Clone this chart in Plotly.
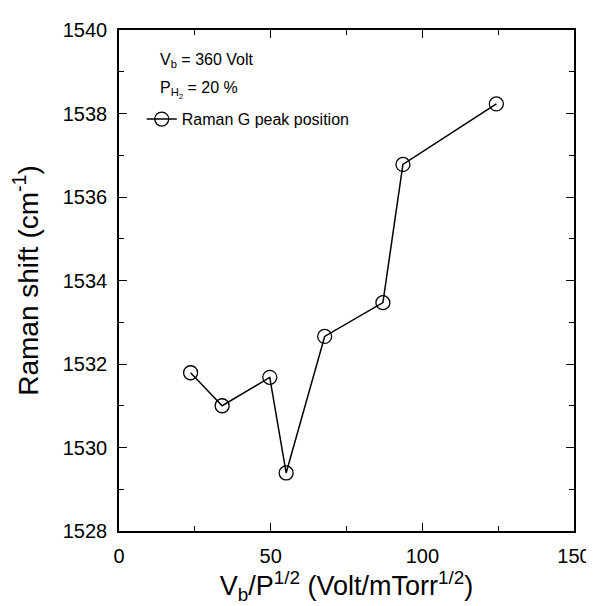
import plotly.graph_objects as go

# Data
vb_over_sqrt_p = [23.6, 34.0, 49.7, 55.1, 67.8, 87.0, 93.6, 124.4]
raman_g_peak = [1531.79, 1531.00, 1531.68, 1529.39, 1532.66, 1533.47, 1536.78, 1538.23]

x_ticks = [0, 50, 100, 150]
y_ticks = [1528, 1530, 1532, 1534, 1536, 1538, 1540]

FONT = "Liberation Sans, Arial, sans-serif"

fig = go.Figure()
fig.add_trace(go.Scatter(
    x=vb_over_sqrt_p, y=raman_g_peak,
    mode="lines+markers",
    name="Raman G peak position",
    line=dict(color="black", width=1.5),
    marker=dict(symbol="circle-open", size=14, color="black", line=dict(width=1.3)),
))

axis_common = dict(
    showline=True, linecolor="black", linewidth=1.5, mirror="allticks",
    ticks="inside", ticklen=8, tickwidth=1.3, tickcolor="black",
    showgrid=False, zeroline=False,
    tickfont=dict(family=FONT, size=20, color="black"),
)

fig.update_xaxes(
    range=[0, 150], tickvals=x_ticks,
    minor=dict(ticks="inside", ticklen=5, tickwidth=1.2, tickcolor="black", dtick=25),
    title=dict(text="V<sub>b</sub>/P<sup>1/2</sup> (Volt/mTorr<sup>1/2</sup>)",
               font=dict(family=FONT, size=27, color="black"), standoff=4),
    ticklabelstandoff=6,
    automargin=False,
    **axis_common,
)
fig.update_yaxes(
    range=[1528, 1540], tickvals=y_ticks,
    minor=dict(ticks="inside", ticklen=5, tickwidth=1.2, tickcolor="black", dtick=1),
    title=dict(text="Raman shift (cm<sup>-1</sup>)",
               font=dict(family=FONT, size=28, color="black"), standoff=20),
    ticklabelstandoff=6,
    **axis_common,
)

fig.add_annotation(xref="paper", yref="paper", x=0.085, y=0.94, xanchor="left", yanchor="middle",
                   text="V<sub>b</sub> = 360 Volt", showarrow=False,
                   font=dict(family=FONT, size=16, color="black"))
fig.add_annotation(xref="paper", yref="paper", x=0.085, y=0.88, xanchor="left", yanchor="middle",
                   text="P<sub>H<sub>2</sub></sub> = 20 %", showarrow=False,
                   font=dict(family=FONT, size=16, color="black"))

fig.update_layout(
    width=594, height=606,
    margin=dict(l=111, r=28, t=22, b=83),
    paper_bgcolor="white", plot_bgcolor="white",
    showlegend=True,
    legend=dict(x=0.05, y=0.822, xanchor="left", yanchor="middle",
                bgcolor="rgba(0,0,0,0)", font=dict(family=FONT, size=16, color="black"),
                itemwidth=30),
)

fig.write_html("out.html")
